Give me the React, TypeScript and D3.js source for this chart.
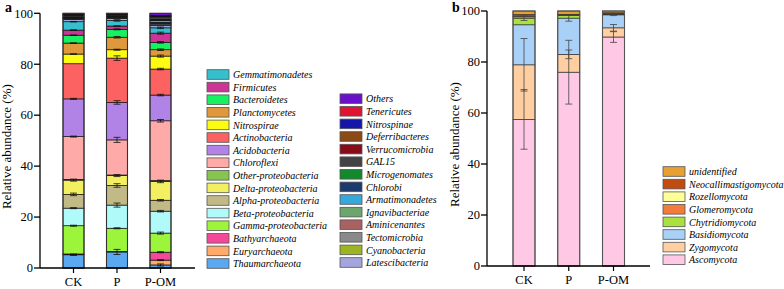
import React from "react";
import * as d3 from "d3";

// ---------- Panel a data ----------
const categories = ["CK", "P", "P-OM"];

// bacterial taxa, stack order bottom -> top
const taxaA = [
  "Thaumarchaeota", "Euryarchaeota", "Bathyarchaeota", "Gamma-proteobacteria",
  "Beta-proteobacteria", "Alpha-proteobacteria", "Delta-proteobacteria",
  "Other-proteobacteria", "Chloroflexi", "Acidobacteria", "Actinobacteria",
  "Nitrospirae", "Planctomycetes", "Bacteroidetes", "Firmicutes", "Gemmatimonadetes",
  "Latescibacteria", "Cyanobacteria", "Tectomicrobia", "Aminicenantes",
  "Ignavibacteriae", "Armatimonadetes", "Chlorobi", "Microgenomates", "GAL15",
  "Verrucomicrobia", "Deferribacteres", "Nitrospinae", "Tenericutes", "Others",
];
const colorsA = [
  "#5aa8f0", "#ffa96a", "#f5489a", "#9cf53a",
  "#b0fafa", "#c2ba86", "#f2f060",
  "#86c650", "#fdaaa8", "#b283e6", "#fd6262",
  "#fbfb14", "#e0983c", "#17f061", "#cc3596", "#36bfcc",
  "#a3a6dc", "#9db523", "#8a8a8a", "#a86262",
  "#6ca66c", "#35a9da", "#1c3a6b", "#14882c", "#434343",
  "#8a0b18", "#8b4a16", "#1515aa", "#de1432", "#6a10c8",
];
const valuesCK = [5.2, 0.2, 0.1, 11.1, 6.9, 5.4, 5.6, 0.3, 16.8, 14.8, 13.8, 3.8, 4.3, 3.1, 2.0, 3.3, 0.9, 0.1, 0.3, 0.1, 0.1, 0.1, 0.2, 0.1, 0.6, 0.2, 0.1, 0.1, 0.1, 0.3];
const valuesP = [6.3, 0.1, 0.1, 9.1, 9.1, 7.7, 3.9, 0.2, 13.8, 14.7, 17.4, 3.3, 4.9, 3.1, 1.3, 2.2, 0.7, 0.1, 0.3, 0.1, 0.1, 0.1, 0.1, 0.1, 0.5, 0.1, 0.1, 0.1, 0.1, 0.3];
const valuesPOM = [1.2, 1.9, 3.1, 7.5, 8.6, 4.3, 7.4, 0.3, 23.5, 10.1, 10.2, 5.1, 2.5, 2.9, 3.6, 2.1, 1.0, 0.2, 0.5, 0.2, 0.2, 0.8, 0.2, 0.2, 1.0, 0.2, 0.1, 0.1, 0.1, 0.9];
const sdCK = [0.3, 0, 0, 0.2, 0.2, 0.5, 0.4, 0, 0.2, 0.2, 0, 0.1, 0.1, 0.1, 0.1, 0.1, 0, 0, 0, 0, 0, 0, 0, 0, 0, 0, 0, 0, 0, 0];
const sdP = [1.0, 0, 0, 0.2, 0.8, 0.7, 0.4, 0, 1.0, 0.7, 0.9, 0.2, 0.3, 0.2, 0.1, 0.3, 0, 0, 0, 0, 0, 0, 0, 0, 0, 0, 0, 0, 0, 0];
const sdPOM = [0.4, 0.2, 0.2, 0.4, 0.3, 0.3, 0.5, 0, 0.5, 0.3, 0.3, 0.4, 0.3, 0.3, 0.4, 0.3, 0, 0, 0, 0, 0, 0, 0, 0, 0, 0, 0, 0, 0, 0];

const legendA1 = [
  "Gemmatimonadetes", "Firmicutes", "Bacteroidetes", "Planctomycetes", "Nitrospirae",
  "Actinobacteria", "Acidobacteria", "Chloroflexi", "Other-proteobacteria",
  "Delta-proteobacteria", "Alpha-proteobacteria", "Beta-proteobacteria",
  "Gamma-proteobacteria", "Bathyarchaeota", "Euryarchaeota", "Thaumarchaeota",
];
const legendA2 = [
  "Others", "Tenericutes", "Nitrospinae", "Deferribacteres", "Verrucomicrobia", "GAL15",
  "Microgenomates", "Chlorobi", "Armatimonadetes", "Ignavibacteriae", "Aminicenantes",
  "Tectomicrobia", "Cyanobacteria", "Latescibacteria",
];

// ---------- Panel b data ----------
const taxaB = [
  "Ascomycota", "Zygomycota", "Basidiomycota", "Chytridiomycota",
  "Glomeromycota", "Rozellomycota", "Neocallimastigomycota", "unidentified",
];
const colorsB = ["#ffc8e4", "#ffcfa2", "#a9d1f7", "#a9e23e", "#f47b3b", "#ffff99", "#c04c12", "#e8a032"];
const valuesB_CK = [57.5, 21.4, 15.7, 2.6, 0.6, 0.2, 0.6, 1.4];
const valuesB_P = [76.0, 7.0, 14.2, 1.0, 0.2, 0.1, 0.2, 1.3];
const valuesB_POM = [89.8, 3.6, 5.1, 0.2, 0.1, 0.1, 0.4, 0.7];
const sdB_CK = [11.7, 10.3, 0, 0.9, 0, 0, 0, 0];
const sdB_P = [12.5, 1.7, 1.2, 0, 0, 0, 0, 0];
const sdB_POM = [2.1, 1.3, 0.3, 0, 0, 0, 0, 0];
const legendB = [...taxaB].reverse();

const yTicks = [0, 20, 40, 60, 80, 100];
const FONT = "Liberation Serif, Tinos, Times New Roman, DejaVu Serif, serif";

type PanelProps = {
  letter: string;
  x0: number; x1: number; yBase: number; yTop: number;
  c0: number; c1: number; barW: number;
  labelX: number;
  series: number[][]; sds: number[][]; colors: string[];
  segStroke: string; barStroke: string; errColor: string;
};

function Panel(p: PanelProps) {
  const y = d3.scaleLinear().domain([0, 100]).range([p.yBase, p.yTop]);
  const x = d3.scalePoint<string>().domain(categories).range([p.c0, p.c1]);
  return (
    <g>
      <text x={p.x0 - 35} y={12} fontSize={14} fontWeight="bold">{p.letter}</text>
      {categories.map((cat, ci) => {
        const vals = p.series[ci];
        const cum = d3.cumsum(vals);
        const cx = x(cat) as number;
        return (
          <g key={cat}>
            {vals.map((v, i) => {
              const lo = i === 0 ? 0 : cum[i - 1];
              const hi = cum[i];
              return (
                <rect key={i} x={cx - p.barW / 2} y={y(hi)} width={p.barW}
                  height={Math.max(0, y(lo) - y(hi))} fill={p.colors[i]}
                  stroke={p.segStroke} strokeWidth={0.7} />
              );
            })}
            <rect x={cx - p.barW / 2} y={y(100)} width={p.barW} height={y(0) - y(100)}
              fill="none" stroke={p.barStroke} strokeWidth={1.1} />
            {vals.map((v, i) => {
              const sd = p.sds[ci][i];
              if (!sd) return null;
              const t = cum[i];
              return (
                <g key={"e" + i} stroke={p.errColor} strokeWidth={0.8}>
                  <line x1={cx} x2={cx} y1={y(t - sd)} y2={y(Math.min(t + sd, 100))} />
                  <line x1={cx - 3.5} x2={cx + 3.5} y1={y(t - sd)} y2={y(t - sd)} />
                  <line x1={cx - 3.5} x2={cx + 3.5} y1={y(Math.min(t + sd, 100))} y2={y(Math.min(t + sd, 100))} />
                </g>
              );
            })}
            <line x1={cx} x2={cx} y1={p.yBase} y2={p.yBase + 5} stroke="#000" strokeWidth={1.2} />
            <text x={cx} y={p.yBase + 18} textAnchor="middle" fontSize={12.5}>{cat}</text>
          </g>
        );
      })}
      <line x1={p.x0} x2={p.x0} y1={p.yBase} y2={p.yTop} stroke="#000" strokeWidth={1.3} />
      <line x1={p.x0} x2={p.x1} y1={p.yBase} y2={p.yBase} stroke="#000" strokeWidth={1.3} />
      {yTicks.map((t) => (
        <g key={t}>
          <line x1={p.x0 - 6} x2={p.x0} y1={y(t)} y2={y(t)} stroke="#000" strokeWidth={1.3} />
          <text x={p.x0 - 7} y={y(t) + 4.3} textAnchor="end" fontSize={12.5}>{t}</text>
        </g>
      ))}
      <text transform={`translate(${p.labelX},${(p.yBase + p.yTop) / 2 + 6}) rotate(-90)`}
        textAnchor="middle" fontSize={13}>Relative abundance (%)</text>
    </g>
  );
}

function Legend({ items, colorOf, x, y0, pitch }: { items: string[]; colorOf: (s: string) => string; x: number; y0: number; pitch: number }) {
  return (
    <g>
      {items.map((name, i) => {
        const cy = y0 + i * pitch;
        return (
          <g key={name}>
            <rect x={x} y={cy - 4.8} width={22} height={9.6} fill={colorOf(name)} stroke="#555" strokeWidth={0.8} />
            <text x={x + 26} y={cy + 3.6} fontSize={10} fontStyle="italic">{name}</text>
          </g>
        );
      })}
    </g>
  );
}

export default function App() {
  const colA = (n: string) => colorsA[taxaA.indexOf(n)];
  const colB = (n: string) => colorsB[taxaB.indexOf(n)];
  return (
    <svg width={784} height={289} style={{ position: "absolute", left: 0, top: 0, background: "#fff", fontFamily: FONT }}>
      <Panel letter="a" x0={40} x1={195} yBase={268} yTop={13.3} c0={73.5} c1={160.5} barW={21}
        labelX={11} series={[valuesCK, valuesP, valuesPOM]} sds={[sdCK, sdP, sdPOM]} colors={colorsA}
        segStroke="#111" barStroke="#333" errColor="#111" />
      <Legend items={legendA1} colorOf={colA} x={207} y0={74.5} pitch={12.6} />
      <Legend items={legendA2} colorOf={colA} x={340} y0={98.7} pitch={12.6} />
      <Panel letter="b" x0={487} x1={650} yBase={266} yTop={11} c0={524} c1={613.5} barW={22}
        labelX={459} series={[valuesB_CK, valuesB_P, valuesB_POM]} sds={[sdB_CK, sdB_P, sdB_POM]} colors={colorsB}
        segStroke="#333" barStroke="#555" errColor="#444" />
      <Legend items={legendB} colorOf={colB} x={663} y0={171.5} pitch={12.6} />
    </svg>
  );
}
